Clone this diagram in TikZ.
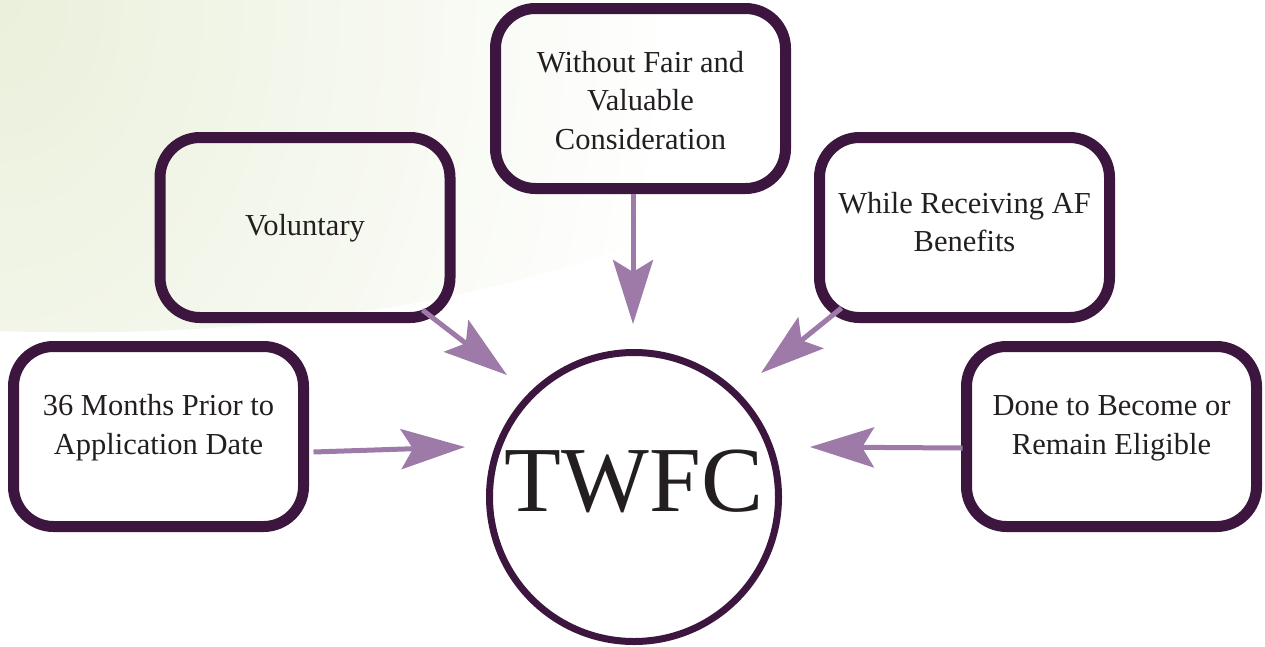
\documentclass[tikz,border=0pt]{standalone}
\usepackage{fontspec}
\setmainfont{Liberation Serif}
\usetikzlibrary{arrows.meta}
\definecolor{boxpurple}{RGB}{60,22,62}
\definecolor{arrowpurple}{RGB}{158,122,168}
\definecolor{txtgray}{RGB}{35,31,32}
\definecolor{bggreen}{RGB}{234,240,219}
\newcommand\btxt[2]{\raisebox{#1}[\height][\depth]{\begin{tabular}{@{}c@{}}#2\end{tabular}}}
\begin{document}
\begin{tikzpicture}[x=1pt,y=-1pt,
  box/.style={draw=boxpurple, line width=11pt, rounded corners=40pt,
    minimum width=290pt, minimum height=180pt, inner sep=0pt,
    text=txtgray, font=\fontsize{30.5}{38.5}\selectfont},
  hub/.style={circle, draw=boxpurple, line width=7pt, minimum size=289pt, inner sep=0pt},
  hubtext/.style={text=txtgray, font=\fontsize{93}{100}\selectfont, inner sep=0pt},
  arr/.style={draw=arrowpurple, line width=5pt,
    -{Stealth[length=64pt,width=40pt,inset=12pt]}}]
\useasboundingbox (0,0) rectangle (1265,646);
% background gradient
\begin{scope}
  \clip (0,0) -- (1000,0) .. controls (800,250) and (400,345) .. (0,331) -- cycle;
  \shade[inner color=bggreen, outer color=white] (0,0) ellipse (680 and 900);
\end{scope}
% nodes
\node[box] (top) at (640.5,98.5) {\btxt{-4.5pt}{Without Fair and\\Valuable\\Consideration}};
\node[box] (vol) at (305,227.5) {\btxt{0pt}{Voluntary}};
\node[box] (whl) at (964.5,227.5) {\btxt{2.5pt}{While Receiving AF\\Benefits}};
\node[box] (m36) at (158.5,436.5) {\btxt{9pt}{36 Months Prior to\\Application Date}};
\node[box] (don) at (1111.5,436.5) {\btxt{9pt}{Done to Become or\\Remain Eligible}};
\node[hub] (twfc) at (634,497) {};
\node[hubtext] (twfclabel) at (634,481.5) {TWFC};
% arrow tips
\coordinate (tv) at ([shift={(-127,-122)}]twfc.center);
\coordinate (tt) at ([shift={(-1,-173)}]twfc.center);
\coordinate (tw) at ([shift={(127,-124)}]twfc.center);
\coordinate (tm) at ([shift={(-169,-50)}]twfc.center);
\coordinate (td) at ([shift={(176,-50)}]twfc.center);
% connectors
\draw[arr] ([shift={(-33,-13)}]vol.south east) -- (tv);
\draw[arr] ([shift={(-7.5,0)}]top.south) -- (tt);
\draw[arr] ([shift={(27.5,-15)}]whl.south west) -- (tw);
\draw[arr] ([shift={(4.5,15.5)}]m36.east) -- (tm);
\draw[arr] ([shift={(1.5,11.5)}]don.west) -- (td);
\end{tikzpicture}
\end{document}
